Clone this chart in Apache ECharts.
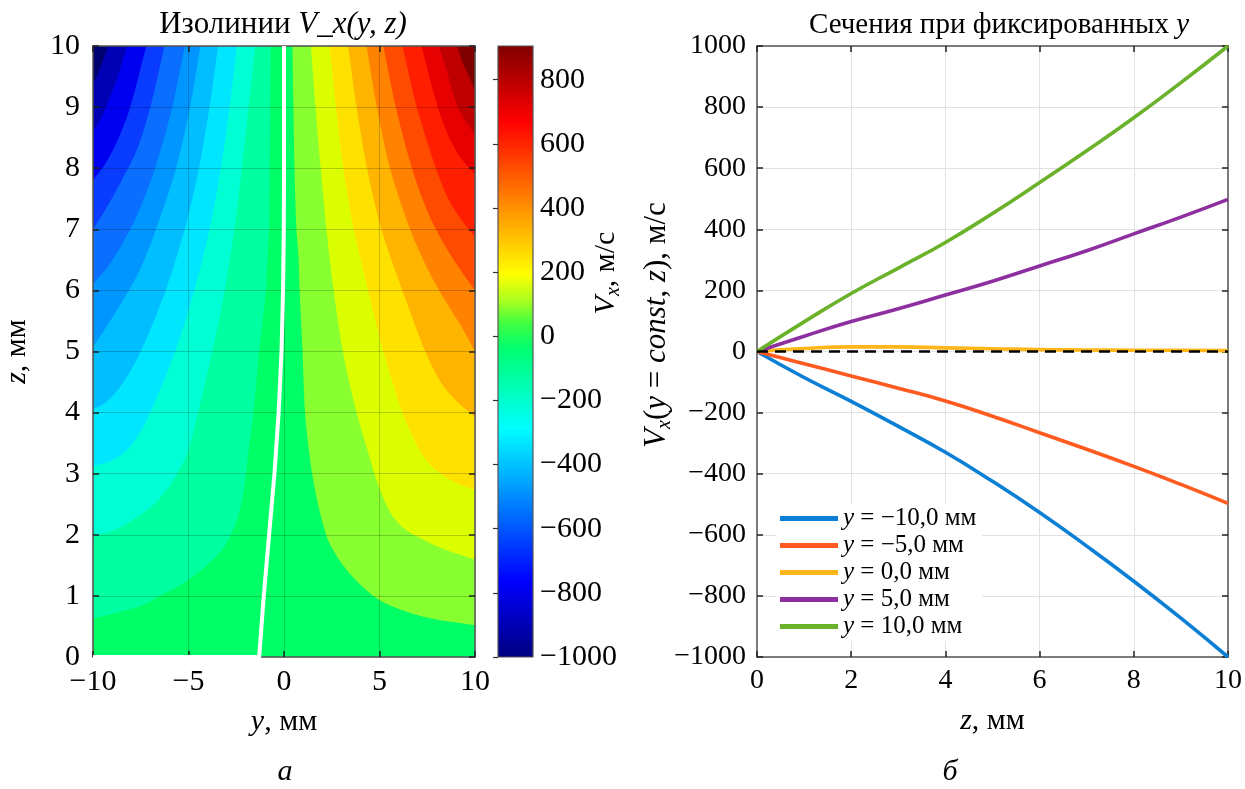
<!DOCTYPE html>
<html lang="ru">
<head>
<meta charset="utf-8">
<title>Изолинии V_x(y, z)</title>
<script src="https://cdn.jsdelivr.net/npm/echarts@6/dist/echarts.min.js"></script>
<style>
    html, body { margin: 0; padding: 0; background: #fff; }
    #main { width: 1245px; height: 789px; }
</style>
</head>
<body>
<div id="main"></div>
<script>
    // ---- данные: сечения при фиксированных y (правый график) ----
    var zSection = [0, 1, 2, 3, 4, 5, 6, 7, 8, 9, 10];
    var vYm10 = [0, -85, -163, -245, -330, -425, -527, -637, -752, -873, -1000];
    var vYm5  = [0, -40, -80, -120, -162, -212, -266, -320, -376, -435, -497];
    var vY0   = [0, 10, 15, 15, 12, 9, 6, 5, 4, 4, 3];
    var vY5   = [0, 50, 98, 140, 185, 230, 280, 330, 385, 440, 498];
    var vY10  = [0, 97, 190, 273, 357, 452, 553, 657, 765, 880, 1000];
    var sectionNames = ['y = \u221210,0 мм', 'y = \u22125,0 мм', 'y = 0,0 мм', 'y = 5,0 мм', 'y = 10,0 мм'];
    var zeroRefZ = [0, 10];
    var zeroRefV = [0, 0];

    // ---- данные: изолинии V_x(y, z) (левый график), точки [y, z] от верхней границы к боковой ----
    var yRange = [-10, 10];
    var zRange = [0, 10];
    var isoRightLevels = [50, 150, 250, 350, 450, 550, 650, 750, 850, 950];
    var isoRight = [
        [[0.44,10],[0.55,8],[0.65,7],[0.75,6.6],[0.82,6],[0.97,5],[1.1,4],[1.3,3.4],[1.5,2.95],[1.85,2.41],[2.38,1.86],[3.43,1.37],[5.0,0.93],[7.3,0.66],[10,0.52]],
        [[1.41,10],[1.65,9],[1.92,8],[2.22,7],[2.6,6],[3.08,5],[3.8,4],[4.45,3.3],[4.9,2.84],[5.6,2.35],[6.3,2.1],[7.3,1.92],[8.5,1.75],[10,1.59]],
        [[2.38,10],[2.72,9],[3.1,8],[3.65,7],[4.4,6],[5.2,5],[6.2,4],[6.9,3.5],[7.5,3.2],[8.2,3.0],[9.0,2.85],[10,2.73]],
        [[3.36,10],[3.8,9],[4.35,8],[5.1,7],[6.2,6],[7.4,5],[8.2,4.5],[9.0,4.2],[10,3.93]],
        [[4.32,10],[4.86,9],[5.55,8],[6.6,7],[7.6,6.3],[8.5,5.8],[9.3,5.4],[10,5.0]],
        [[5.2,10],[5.85,9],[6.7,8],[7.5,7.3],[8.3,6.8],[9.1,6.4],[10,6.0]],
        [[6.2,10],[6.95,9],[7.95,8],[8.6,7.5],[9.3,7.15],[10,6.88]],
        [[7.2,10],[8.05,9],[8.65,8.5],[9.3,8.15],[10,7.9]],
        [[8.12,10],[8.6,9.5],[9.1,9],[9.55,8.75],[10,8.55]],
        [[9.05,10],[9.4,9.7],[9.75,9.45],[10,9.25]]
    ];
    var isoLeftLevels = [-50, -150, -250, -350, -450, -550, -650, -750, -850, -950];
    var isoLeft = [
        [[-0.7,10],[-0.74,8],[-0.79,7],[-0.85,6.6],[-0.95,6],[-1.3,5],[-1.6,4],[-1.85,3.4],[-2.05,2.85],[-2.4,2.3],[-3.25,1.75],[-5.0,1.26],[-6.5,1.0],[-7.65,0.82],[-10,0.63]],
        [[-1.5,10],[-1.85,9],[-2.2,8],[-2.6,7],[-3.1,6],[-3.75,5],[-4.5,4],[-5.1,3.3],[-5.9,2.84],[-6.8,2.5],[-7.65,2.3],[-8.7,2.1],[-10,1.97]],
        [[-2.46,10],[-2.85,9],[-3.3,8],[-3.9,7],[-4.7,6],[-5.7,5],[-7.0,4],[-7.9,3.5],[-8.8,3.25],[-10,3.12]],
        [[-3.45,10],[-3.9,9],[-4.45,8],[-5.2,7],[-6.2,6],[-7.5,5],[-8.4,4.5],[-9.2,4.2],[-10,4.05]],
        [[-4.37,10],[-4.92,9],[-5.65,8],[-6.7,7],[-7.6,6.3],[-8.5,5.8],[-9.3,5.4],[-10,5.08]],
        [[-5.2,10],[-5.85,9],[-6.75,8],[-7.6,7.3],[-8.4,6.8],[-9.2,6.4],[-10,6.1]],
        [[-6.25,10],[-7.0,9],[-7.7,8.3],[-8.5,7.8],[-9.3,7.35],[-10,7.0]],
        [[-7.21,10],[-8.05,9],[-8.65,8.5],[-9.3,8.1],[-10,7.8]],
        [[-8.22,10],[-8.7,9.5],[-9.2,9.1],[-9.6,8.8],[-10,8.6]],
        [[-9.22,10],[-9.55,9.7],[-9.8,9.5],[-10,9.39]]
    ];
    // нулевая изолиния (белая)
    var zeroIsoY = [-10, -1.3, -1.06, -0.78, -0.5, -0.28, -0.13, -0.05, -0.01, 0, 0];
    var zeroIsoZ = [0, 0, 1, 2, 3, 4, 5, 6, 7, 8, 10];

    // ---- шкала цвета ----
    var cbRange = [-1000, 905];
    var cbTicks = [-1000, -800, -600, -400, -200, 0, 200, 400, 600, 800];

    // ---- оформление ----
    var SERIF = 'Liberation Serif';
    var bandZeroColor = '#00ff66';
    var bandRightColors = ['#88ff30', '#dcff00', '#ffe100', '#ffb400', '#ff8200', '#ff4b00', '#ff1e00', '#e60000', '#be0000', '#800000'];
    var bandLeftColors = ['#00ffa0', '#00ffd4', '#00e6ff', '#00beff', '#0096ff', '#0a6eff', '#0a3cff', '#0000f0', '#0000b4', '#000070'];
    var cbStops = [
        [-1000, '#00007f'], [-762, '#0000ff'], [-520, '#0080ff'], [-286, '#00ffff'],
        [-150, '#00ffb0'], [-40, '#00ff70'], [40, '#40ff40'], [110, '#a8ff20'],
        [191, '#ffff00'], [430, '#ff8000'], [667, '#ff0000'], [905, '#800000']
    ];
    var lineColors = ['#0b7fd3', '#ff5a1f', '#ffb619', '#8e2fa0', '#6bb22b'];

    function minusFmt(v) { return v < 0 ? '\u2212' + Math.abs(v) : String(v); }
    function rich(size) {
        return {
            n: { fontFamily: SERIF, fontSize: size, color: '#000', lineHeight: size + 5 },
            i: { fontFamily: SERIF, fontSize: size, color: '#000', fontStyle: 'italic', lineHeight: size + 5 },
            s: { fontFamily: SERIF, fontSize: Math.round(size * 0.66), color: '#000', fontStyle: 'italic',
                 lineHeight: Math.round(size * 0.72), verticalAlign: 'bottom' }
        };
    }
    var leftLabel = { fontFamily: SERIF, fontSize: 30, color: '#000' };
    var rightLabel = { fontFamily: SERIF, fontSize: 28, color: '#000' };

    // полосы заливки: фон (полоса 0) + вложенные области за каждой изолинией
    var bands = [{ line: null, corner: null, color: bandZeroColor }];
    isoRight.forEach(function (line, i) {
        bands.push({ line: line, corner: [yRange[1], zRange[1]], color: bandRightColors[i] });
    });
    isoLeft.forEach(function (line, i) {
        bands.push({ line: line, corner: [yRange[0], zRange[1]], color: bandLeftColors[i] });
    });

    function pairs(xs, ys) { return xs.map(function (x, i) { return [x, ys[i]]; }); }

    var sectionValues = [vYm10, vYm5, vY0, vY5, vY10];
    var sectionSeries = sectionValues.map(function (vals, i) {
        return {
            name: sectionNames[i], type: 'line', xAxisIndex: 2, yAxisIndex: 2,
            data: pairs(zSection, vals), smooth: true, symbol: 'none', clip: false,
            lineStyle: { color: lineColors[i], width: 3.6 }, itemStyle: { color: lineColors[i] }, z: 3
        };
    });

    function frameAxis(grid, pos, min, max, interval) {
        return {
            gridIndex: grid, type: 'value', position: pos, min: min, max: max, interval: interval,
            axisLine: { show: true, onZero: false, lineStyle: { color: '#555', width: 1.5 } },
            axisTick: { show: true, inside: true, length: 6, lineStyle: { color: '#222', width: 1.5 } },
            axisLabel: { show: false }, splitLine: { show: false }, z: 3
        };
    }

    // точка на отрезке p -> q на расстоянии d пикселей от p
    function toward(p, q, d) {
        var dx = q[0] - p[0], dy = q[1] - p[1];
        var len = Math.sqrt(dx * dx + dy * dy) || 1;
        return [p[0] + dx / len * d, p[1] + dy / len * d];
    }

    function renderBand(params, api) {
        var band = bands[params.dataIndex];
        var a = api.coord([yRange[0], zRange[0]]);
        var b = api.coord([yRange[1], zRange[1]]);
        if (!band.line) {
            return { type: 'rect', shape: { x: a[0], y: b[1], width: b[0] - a[0], height: a[1] - b[1] },
                     style: { fill: band.color } };
        }
        var line = band.line.map(function (p) { return api.coord(p); });
        var n = line.length;
        var c = api.coord(band.corner);
        var first = line[0], last = line[n - 1];
        var d = 1.5;
        // короткие опорные отрезки у концов изолинии и у угла, чтобы сглаживание не загибало границы
        var pts = [toward(first, c, d), first, toward(first, line[1], d)];
        for (var i = 1; i < n - 1; i++) { pts.push(line[i]); }
        pts.push(toward(last, line[n - 2], d), last, toward(last, c, d));
        pts.push(toward(c, last, d), c, toward(c, first, d));
        return { type: 'polygon',
                 shape: { points: pts, smooth: 0.3, smoothConstraint: [[a[0], b[1]], [b[0], a[1]]] },
                 style: { fill: band.color } };
    }

    var chart = echarts.init(document.getElementById('main'));
    var option = {
        animation: false,
        backgroundColor: '#fff',
        grid: [
            { left: 93, top: 46, width: 382, height: 611 },
            { left: 757, top: 46, width: 481, height: 611 },
            { left: 498, top: 46, width: 35, height: 611 }
        ],
        xAxis: [
            {
                gridIndex: 0, type: 'value', min: yRange[0], max: yRange[1], interval: 5, position: 'bottom', z: 3,
                axisLine: { show: true, onZero: false, lineStyle: { color: '#555', width: 1.5 } },
                axisTick: { show: true, inside: true, length: 6, lineStyle: { color: '#222', width: 1.5 } },
                axisLabel: Object.assign({ formatter: minusFmt, margin: 10 }, leftLabel),
                splitLine: { show: true, lineStyle: { color: 'rgba(0,0,0,0.2)', width: 1 } },
                name: '{i|y}{n|, мм}', nameLocation: 'middle', nameGap: 48,
                nameTextStyle: { rich: rich(30) }
            },
            frameAxis(0, 'top', yRange[0], yRange[1], 5),
            {
                gridIndex: 1, type: 'value', min: 0, max: 10, interval: 2, position: 'bottom', z: 3,
                axisLine: { show: true, onZero: false, lineStyle: { color: '#555', width: 1.5 } },
                axisTick: { show: true, inside: true, length: 6, lineStyle: { color: '#222', width: 1.5 } },
                axisLabel: Object.assign({ margin: 10 }, rightLabel),
                splitLine: { show: true, lineStyle: { color: '#e2e2e2', width: 1 } },
                name: '{i|z}{n|, мм}', nameLocation: 'middle', nameGap: 47,
                nameTextStyle: { rich: rich(30) }
            },
            frameAxis(1, 'top', 0, 10, 2),
            { gridIndex: 2, type: 'value', min: 0, max: 1, show: false }
        ],
        yAxis: [
            {
                gridIndex: 0, type: 'value', min: zRange[0], max: zRange[1], interval: 1, position: 'left', z: 3,
                axisLine: { show: true, onZero: false, lineStyle: { color: '#555', width: 1.5 } },
                axisTick: { show: true, inside: true, length: 6, lineStyle: { color: '#222', width: 1.5 } },
                axisLabel: Object.assign({ margin: 13 }, leftLabel),
                splitLine: { show: true, lineStyle: { color: 'rgba(0,0,0,0.2)', width: 1 } },
                name: '{i|z}{n|, мм}', nameLocation: 'middle', nameGap: 58, nameRotate: 90,
                nameTextStyle: { rich: rich(30) }
            },
            frameAxis(0, 'right', zRange[0], zRange[1], 1),
            {
                gridIndex: 1, type: 'value', min: -1000, max: 1000, interval: 200, position: 'left', z: 3,
                axisLine: { show: true, onZero: false, lineStyle: { color: '#555', width: 1.5 } },
                axisTick: { show: true, inside: true, length: 6, lineStyle: { color: '#222', width: 1.5 } },
                axisLabel: Object.assign({ formatter: minusFmt, margin: 11 }, rightLabel),
                splitLine: { show: true, lineStyle: { color: '#e2e2e2', width: 1 } }
            },
            frameAxis(1, 'right', -1000, 1000, 200),
            {
                gridIndex: 2, type: 'value', min: cbRange[0], max: cbRange[1], interval: 200, position: 'right', z: 3,
                axisLine: { show: false },
                axisTick: { show: true, inside: true, length: 5, customValues: cbTicks, lineStyle: { color: '#333', width: 1.2 } },
                axisLabel: Object.assign({ formatter: minusFmt, margin: 7, customValues: cbTicks }, leftLabel),
                splitLine: { show: false }
            }
        ],
        legend: {
            data: sectionNames, orient: 'vertical', left: 776, top: 504,
            icon: 'rect', itemWidth: 58, itemHeight: 5, itemGap: 2,
            backgroundColor: '#fff', padding: [2, 6, 2, 4],
            formatter: function (name) { return '{i|y}{n|' + name.slice(1) + '}'; },
            textStyle: { fontFamily: SERIF, fontSize: 25, color: '#000', rich: {
                i: { fontFamily: SERIF, fontSize: 25, fontStyle: 'italic', color: '#000' },
                n: { fontFamily: SERIF, fontSize: 25, color: '#000' }
            } }
        },
        graphic: [
            { type: 'text', x: 283, y: 25, style: { text: '{n|Изолинии }{i|V_x(y, z)}', rich: rich(31), align: 'center', verticalAlign: 'middle' } },
            { type: 'text', x: 999, y: 25, style: { text: '{n|Сечения при фиксированных }{i|y}', rich: rich(29), align: 'center', verticalAlign: 'middle' } },
            { type: 'text', x: 285, y: 772, style: { text: '{i|а}', rich: rich(30), align: 'center', verticalAlign: 'middle' } },
            { type: 'text', x: 950, y: 772, style: { text: '{i|б}', rich: rich(30), align: 'center', verticalAlign: 'middle' } },
            { type: 'text', x: 606, y: 273, rotation: Math.PI / 2,
              style: { text: '{i|V}{s|x}{n|, м/с}', rich: rich(30), align: 'center', verticalAlign: 'middle' } },
            { type: 'text', x: 657, y: 325, rotation: Math.PI / 2,
              style: { text: '{i|V}{s|x}{n|(}{i|y}{n| = }{i|const}{n|, }{i|z}{n|), м/с}', rich: rich(31), align: 'center', verticalAlign: 'middle' } }
        ],
        series: [
            {
                name: 'contourFill', type: 'custom', xAxisIndex: 0, yAxisIndex: 0, z: 1, silent: true, clip: true,
                data: bands.map(function (b, i) { return [0, 0, i]; }),
                renderItem: renderBand
            },
            {
                name: 'zeroIso', type: 'line', xAxisIndex: 0, yAxisIndex: 0, z: 4, silent: true,
                data: pairs(zeroIsoY, zeroIsoZ), symbol: 'none', clip: true,
                lineStyle: { color: '#fff', width: 4, join: 'round' }
            }
        ].concat(sectionSeries).concat([
            {
                name: 'zeroRef', type: 'line', xAxisIndex: 2, yAxisIndex: 2, z: 4, silent: true,
                data: pairs(zeroRefZ, zeroRefV), symbol: 'none',
                lineStyle: { color: '#000', width: 2.5, type: [11, 7] }
            },
            {
                name: 'colorbar', type: 'custom', xAxisIndex: 4, yAxisIndex: 4, z: 1, silent: true,
                data: [[0, cbRange[0], 1, cbRange[1]]],
                renderItem: function (params, api) {
                    var p0 = api.coord([api.value(0), api.value(1)]);
                    var p1 = api.coord([api.value(2), api.value(3)]);
                    var span = cbRange[1] - cbRange[0];
                    var stops = cbStops.map(function (s) {
                        return { offset: (s[0] - cbRange[0]) / span, color: s[1] };
                    });
                    return {
                        type: 'rect',
                        shape: { x: p0[0], y: p1[1], width: p1[0] - p0[0], height: p0[1] - p1[1] },
                        style: { fill: new echarts.graphic.LinearGradient(0, 1, 0, 0, stops), stroke: '#555', lineWidth: 1.2 }
                    };
                }
            }
        ])
    };
    chart.setOption(option);
</script>
</body>
</html>
